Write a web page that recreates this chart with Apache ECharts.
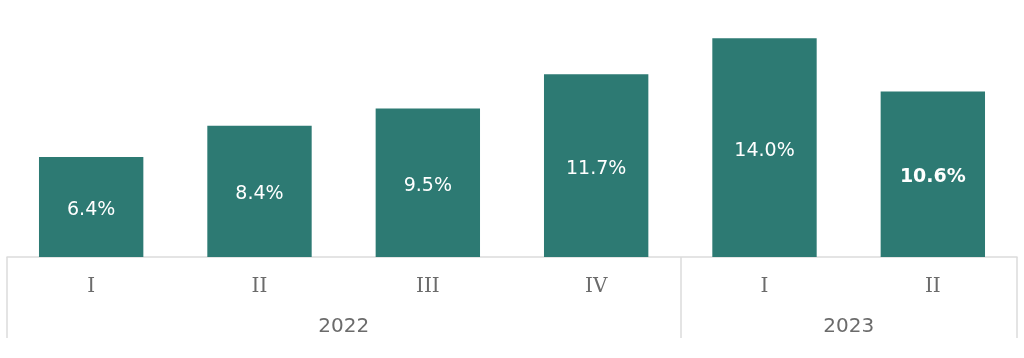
<!DOCTYPE html>
<html><head><meta charset="utf-8">
<script src="https://cdn.jsdelivr.net/npm/echarts@6/dist/echarts.min.js"></script>
<style>html,body{margin:0;padding:0;background:#fff}#c{width:1024px;height:358px}</style>
</head><body><div id="c"></div>
<script>
const quarters = ['I','II','III','IV','I','II'];
const values = [6.4, 8.4, 9.5, 11.7, 14.0, 10.6];
const years = ['2022','2023'];
const yearSpans = [4, 2];

const bounds = [0];
yearSpans.forEach(s => bounds.push(bounds[bounds.length-1] + s));
const centers = yearSpans.map((s, i) => bounds[i] + s / 2);

const chart = echarts.init(document.getElementById('c'));
chart.setOption({
  animation: false,
  grid: {left: 7, right: 7, top: 7, bottom: 101, containLabel: false},
  xAxis: [{
    type: 'category', data: quarters,
    axisLine: {show: true, lineStyle: {color: '#dcdcdc', width: 1.5}},
    axisTick: {show: false},
    axisLabel: {color: '#6b6b6b', fontSize: 20, fontFamily: 'DejaVu Serif', margin: 20}
  }, {
    type: 'value', min: 0, max: bounds[bounds.length-1], position: 'bottom',
    axisLine: {show: false},
    splitLine: {show: false},
    axisTick: {show: true, customValues: bounds, length: 81, lineStyle: {color: '#dcdcdc', width: 1.5}},
    axisLabel: {customValues: centers, color: '#6b6b6b', fontSize: 20, fontFamily: 'DejaVu Sans', margin: 60,
      formatter: v => years[centers.indexOf(v)]}
  }],
  yAxis: {type: 'value', min: 0, max: 16, show: false, splitLine: {show: false}},
  series: [{
    type: 'bar', xAxisIndex: 0, barWidth: '62%',
    itemStyle: {color: '#2d7a73'},
    data: values.map((v, i) => ({value: v, label: i === values.length - 1 ? {fontWeight: 'bold'} : {}})),
    label: {show: true, position: 'inside', offset: [0, 3], color: '#ffffff', fontSize: 19, fontFamily: 'DejaVu Sans',
      formatter: p => p.value.toFixed(1) + '%'}
  }]
});
</script></body></html>
